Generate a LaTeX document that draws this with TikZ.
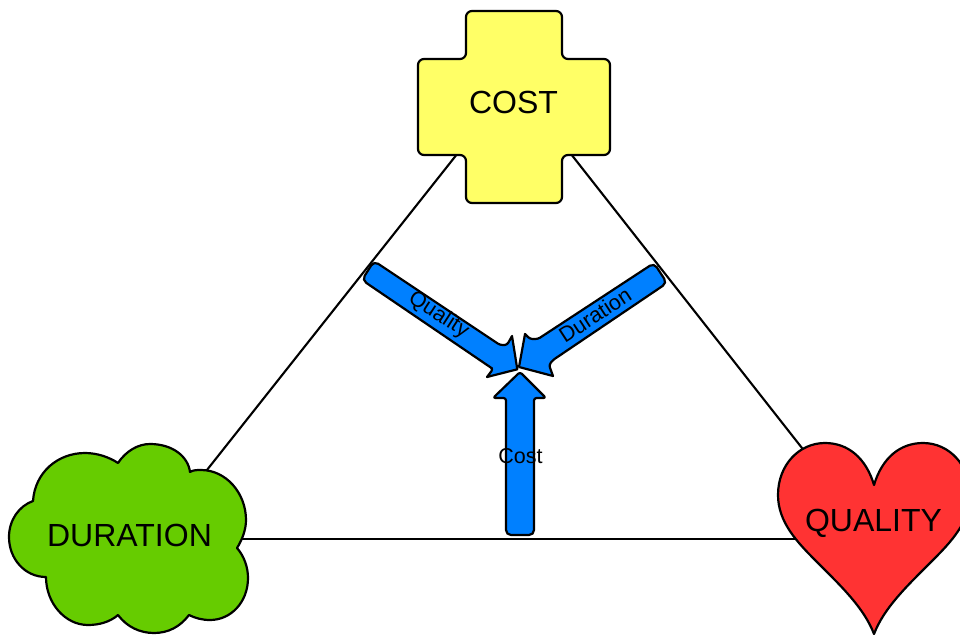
\documentclass[tikz,border=0pt]{standalone}
\usepackage{fontspec}
\setmainfont{Liberation Sans}
\usetikzlibrary{calc,backgrounds}
\definecolor{crossfill}{HTML}{FFFF66}
\definecolor{cloudfill}{HTML}{66CC00}
\definecolor{heartfill}{HTML}{FF3333}
\definecolor{arrowfill}{HTML}{0080FF}
\tikzset{
  x=1pt,y=-1pt,
  outline/.style={draw=black,line width=2.2pt,line join=round},
  link/.style={draw=black,line width=2.1pt},
  biglabel/.style={font=\fontsize{32}{32}\selectfont,inner sep=0pt,text=black},
  smalllabel/.style={font=\fontsize{21.5}{21.5}\selectfont,inner sep=0pt,text=black},
  flow/.style={outline,fill=arrowfill},
}
\begin{document}
\begin{tikzpicture}
\useasboundingbox (0,0) rectangle (960,634);
\clip (0,0) rectangle (960,634);
% cross
\draw[outline,fill=crossfill,rounded corners=6pt]
  (466,11) -- (562,11) -- (562,59) -- (610,59) -- (610,155) -- (562,155) -- (562,203)
  -- (466,203) -- (466,155) -- (418,155) -- (418,59) -- (466,59) -- cycle;
% cloud
\draw[outline,fill=cloudfill]
  (33,501) .. controls (35,472) and (58,453) .. (85,453) .. controls (97,453) and (109,457) .. (118,463)
  .. controls (126,451) and (138,444) .. (150,444) .. controls (172,444) and (188,456) .. (190,472)
  .. controls (193,470) and (197,470) .. (201,470) .. controls (226,470) and (246,493) .. (246,520)
  .. controls (246,530) and (242,540) .. (237,548)
  .. controls (244,556) and (248,567) .. (248,578) .. controls (248,602) and (231,620) .. (210,620)
  .. controls (202,620) and (195,618) .. (189,615)
  .. controls (180,627) and (168,633) .. (154,633) .. controls (140,633) and (127,627) .. (118,615)
  .. controls (110,622) and (99,625) .. (88,625) .. controls (65,625) and (46,603) .. (46,577)
  .. controls (25,577) and (9,559) .. (9,537) .. controls (9,520) and (19,506) .. (33,501) -- cycle;
% heart
\draw[outline,fill=heartfill]
  (874,485) .. controls (866,458) and (848,443) .. (825,443) .. controls (799,443) and (778,465) .. (778,495)
  .. controls (778,522) and (797,542) .. (816,561) .. controls (842,587) and (864,608) .. (874,634)
  .. controls (884,608) and (906,587) .. (932,561) .. controls (951,542) and (970,522) .. (970,495)
  .. controls (970,465) and (949,443) .. (923,443) .. controls (900,443) and (882,458) .. (874,485) -- cycle;
% arrows
\draw[flow,rounded corners=5pt]
  (506,535) [rounded corners=2.5pt] -- (506,398) -- (493,398) -- (520,372) -- (546,398) -- (534,398) [rounded corners=5pt] -- (534,535) -- cycle;
\draw[flow,rounded corners=5pt]
  (374,261) [rounded corners=2.5pt] -- (500,345) -- (507,345) [sharp corners] -- (512,336) -- (517.3,369.3) -- (487,377) [rounded corners=2.5pt] -- (493,369) -- (490,367) [rounded corners=5pt] -- (362,280) -- cycle;
\draw[flow,rounded corners=5pt]
  (654,263) [rounded corners=2.5pt] -- (538,339) -- (530,339) [sharp corners] -- (525,334) -- (519,367) -- (553,376) [rounded corners=2.5pt] -- (549,365) -- (553,360) [rounded corners=5pt] -- (667,283) -- cycle;
% labels
\node[biglabel] (cost) at (513.5,102.5) {COST};
\node[biglabel] (duration) at (129.5,535) {DURATION};
\node[biglabel] (quality) at (873.5,523.5) {QUALITY};
\node[smalllabel,rotate=-33] (lblquality) at (438.5,315) {Quality};
\node[smalllabel,rotate=33] (lblduration) at (595,315) {Duration};
\node[smalllabel] (lblcost) at (520.5,456) {Cost};
% connectors
\begin{pgfonlayer}{background}
\draw[link] ($(cost.center)+(-15.6,0)$) -- ($(duration.center)+(26,0)$);
\draw[link] ($(cost.center)+(17,0)$) -- ($(quality.center)+(-12.2,0)$);
\draw[link] ($(duration.center)+(0,4)$) -- ($(quality.center)+(0,15.5)$);
\end{pgfonlayer}
\end{tikzpicture}
\end{document}
